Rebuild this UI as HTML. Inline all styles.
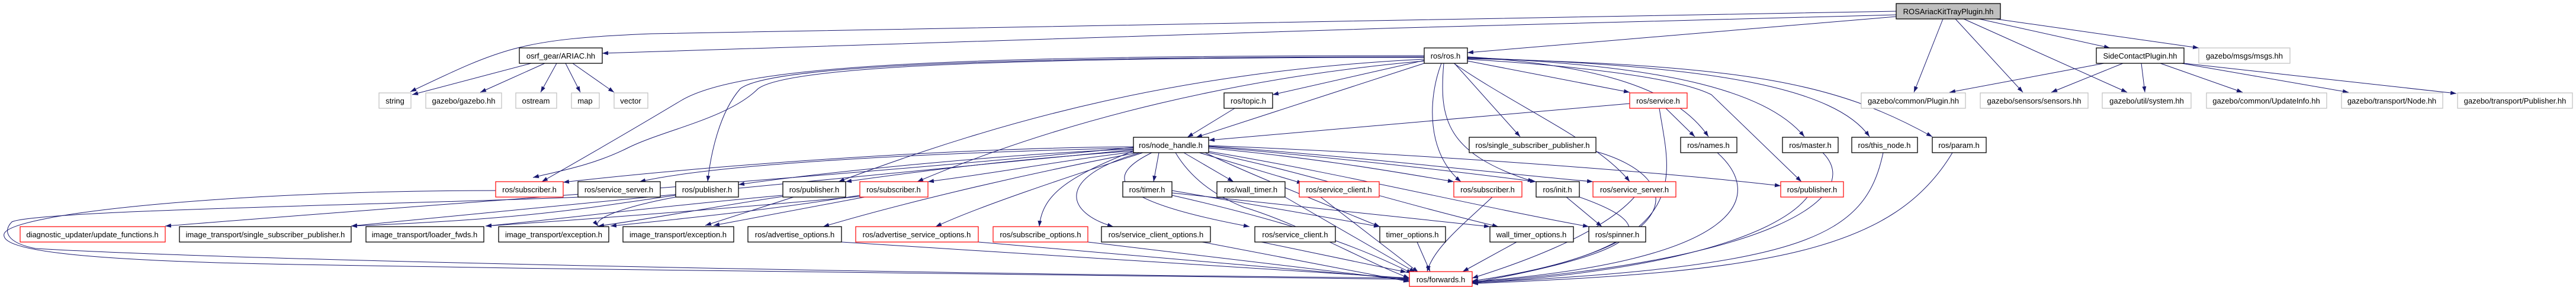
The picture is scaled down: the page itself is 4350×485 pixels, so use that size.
<!DOCTYPE html>
<html><head><meta charset="utf-8"><style>
html,body{margin:0;padding:0;background:#fff;}
svg{display:block;}
text{font-family:"Liberation Sans",sans-serif;font-size:13px;text-anchor:middle;fill:#000;}
.e{fill:none;stroke:#191970;stroke-width:1;marker-end:url(#a);}
.b{fill:#fff;stroke:#000;stroke-width:1.3;}
.r{fill:#fff;stroke:#f00;stroke-width:1.2;}
.g{fill:#fff;stroke:#bfbfbf;stroke-width:1.2;}
</style></head><body>
<svg width="4350" height="485" viewBox="0 0 4350 485" xmlns="http://www.w3.org/2000/svg">
<defs><marker id="a" markerUnits="userSpaceOnUse" markerWidth="11" markerHeight="8" refX="10" refY="3.5" orient="auto"><path d="M0,0 L10,3.5 L0,7 z" fill="#191970"/></marker></defs>
<g>
<path class="e" d="M3202,19 C2200,35 1300,50 1100,57 C880,66 850,80 693,155"/>
<path class="e" d="M3202,25 C2500,40 1500,75 1017,90"/>
<path class="e" d="M3202,28 L2478,89"/>
<path class="e" d="M3281,32 L3232,156"/>
<path class="e" d="M3302,32 L3416,156"/>
<path class="e" d="M3316,32 L3592,156"/>
<path class="e" d="M3342,32 L3563,81"/>
<path class="e" d="M3370,32 L3713,81"/>
<path class="e" d="M3553,107 L3292,156"/>
<path class="e" d="M3585,107 L3464,156"/>
<path class="e" d="M3616,107 L3622,156"/>
<path class="e" d="M3648,107 L3787,156"/>
<path class="e" d="M3684,107 L3966,156"/>
<path class="e" d="M3688,107 L4148,158"/>
<path class="e" d="M897,107 L696,160"/>
<path class="e" d="M920,107 L811,156"/>
<path class="e" d="M940,107 L913,156"/>
<path class="e" d="M955,107 L980,156"/>
<path class="e" d="M967,107 L1037,156"/>
<path class="e" d="M2405,94 C1600,94 1250,110 1150,170 C1050,230 980,270 915,307"/>
<path class="e" d="M2405,96 C1700,96 1300,110 1250,150 C1215,190 1200,260 1195,307"/>
<path class="e" d="M2405,97 C1700,97 1330,112 1280,150 C1230,200 1120,220 1060,250 C1000,280 940,290 900,300"/>
<path class="e" d="M2405,100 C2000,120 1700,200 1416,307"/>
<path class="e" d="M2405,103 C2100,130 1800,200 1549,307"/>
<path class="e" d="M2405,107 L2020,232"/>
<path class="e" d="M2405,102 L2149,160"/>
<path class="e" d="M2085,183 L2005,232"/>
<path class="e" d="M2752,175 L2041,237"/>
<path class="e" d="M2478,103 L2752,156"/>
<path class="e" d="M2456,107 L2567,231"/>
<path class="e" d="M2478,96 C2700,110 2830,150 2885,231"/>
<path class="e" d="M2478,97 C2800,110 2980,150 3047,231"/>
<path class="e" d="M2478,98 C2900,110 3100,150 3157,231"/>
<path class="e" d="M2478,99 C2950,110 3100,140 3263,231"/>
<path class="e" d="M2434,107 C2410,170 2410,260 2467,307"/>
<path class="e" d="M2438,107 C2430,200 2440,260 2590,307"/>
<path class="e" d="M2455,107 C2560,180 2700,240 2752,307"/>
<path class="e" d="M2478,100 C2800,120 2870,150 2890,160 L3042,307"/>
<path class="e" d="M1914,248 C1600,250 1200,280 951,308"/>
<path class="e" d="M1914,250 C1500,260 1200,280 1080,307"/>
<path class="e" d="M1914,252 C1700,260 1400,290 1247,312"/>
<path class="e" d="M1914,255 C1700,270 1550,290 1428,307"/>
<path class="e" d="M1914,257 C1800,270 1700,290 1567,307"/>
<path class="e" d="M1957,258 L1948,307"/>
<path class="e" d="M1999,258 L2083,307"/>
<path class="e" d="M2025,258 L2200,310"/>
<path class="e" d="M2041,250 C2250,270 2380,295 2455,307"/>
<path class="e" d="M2041,248 C2300,270 2500,295 2594,307"/>
<path class="e" d="M2041,247 C2300,265 2550,295 2690,307"/>
<path class="e" d="M2041,246 C2400,260 2800,290 3007,314"/>
<path class="e" d="M1920,258 C1700,300 1500,350 1390,383"/>
<path class="e" d="M1930,258 C1800,300 1650,350 1580,383"/>
<path class="e" d="M1914,255 C1800,300 1760,330 1755,383"/>
<path class="e" d="M1925,258 C1780,300 1800,360 1880,383"/>
<path class="e" d="M1945,258 C1860,300 1880,340 2110,383"/>
<path class="e" d="M2035,258 C2100,290 2250,350 2330,383"/>
<path class="e" d="M2041,258 C2200,290 2350,340 2530,383"/>
<path class="e" d="M2041,256 C2250,290 2500,350 2683,383"/>
<path class="e" d="M1985,258 C2010,300 2050,330 2100,350 C2200,380 2300,440 2380,470"/>
<path class="e" d="M1914,249 C1400,300 800,340 279,382"/>
<path class="e" d="M1914,253 C1400,300 900,350 593,382"/>
<path class="e" d="M1322,330 C1100,350 950,370 820,382"/>
<path class="e" d="M1141,330 C1000,350 900,370 593,382"/>
<path class="e" d="M1322,332 C1200,350 1100,370 1010,382"/>
<path class="e" d="M1452,330 C1300,355 1150,370 1031,382"/>
<path class="e" d="M1452,332 C1200,355 1000,370 820,382"/>
<path class="e" d="M1340,333 L1191,381"/>
<path class="e" d="M1460,333 L1205,381"/>
<path class="e" d="M1141,333 C1050,350 1000,370 1010,382"/>
<path class="e" d="M1979,322 L2330,383"/>
<path class="e" d="M1979,326 L2516,383"/>
<path class="e" d="M1979,330 C2200,380 2300,420 2385,462"/>
<path class="e" d="M2170,333 L2390,460"/>
<path class="e" d="M2230,333 L2395,460"/>
<path class="e" d="M2520,333 C2470,380 2420,420 2410,459"/>
<path class="e" d="M2645,333 L2705,383"/>
<path class="e" d="M2667,333 C2800,380 2800,420 2486,478"/>
<path class="e" d="M2760,333 C2700,400 2550,450 2486,470"/>
<path class="e" d="M3052,333 C3000,400 2800,460 2486,478"/>
<path class="e" d="M2695,256 C2850,300 2860,420 2486,475"/>
<path class="e" d="M2813,183 L2862,231"/>
<path class="e" d="M2802,183 C2820,300 2870,420 2486,475"/>
<path class="e" d="M2900,258 C2980,330 2950,440 2486,476"/>
<path class="e" d="M3078,258 C3150,330 3000,440 2486,477"/>
<path class="e" d="M3180,258 C3150,400 3050,450 2486,478"/>
<path class="e" d="M3297,258 C3200,420 3000,460 2486,479"/>
<path class="e" d="M1421,409 L2380,470"/>
<path class="e" d="M1652,409 L2380,472"/>
<path class="e" d="M1837,409 L2380,474"/>
<path class="e" d="M2030,409 L2380,476"/>
<path class="e" d="M2130,409 L2375,460"/>
<path class="e" d="M2393,409 L2415,459"/>
<path class="e" d="M2561,409 L2470,459"/>
<path class="e" d="M837,322 C400,322 20,360 7,395 C0,420 100,440 500,447 C1200,460 2000,465 2380,472"/>
<path class="e" d="M980,333 C700,345 60,355 20,375 C5,390 10,410 60,420 C400,440 1500,462 2380,470"/>
</g>
<g>
<rect x="3202" y="6" width="176" height="26" fill="#bfbfbf" stroke="#000" stroke-width="1.3"/><text x="3290" y="24">ROSAriacKitTrayPlugin.hh</text>
<rect class="b" x="877" y="81" width="140" height="26"/><text x="947" y="99">osrf_gear/ARIAC.hh</text>
<rect class="b" x="2405" y="81" width="73" height="26"/><text x="2441" y="99">ros/ros.h</text>
<rect class="b" x="3540" y="81" width="148" height="26"/><text x="3614" y="99">SideContactPlugin.hh</text>
<rect class="g" x="3713" y="81" width="154" height="26"/><text x="3790" y="99">gazebo/msgs/msgs.hh</text>
<rect class="g" x="640" y="157" width="54" height="26"/><text x="667" y="175">string</text>
<rect class="g" x="719" y="157" width="128" height="26"/><text x="783" y="175">gazebo/gazebo.hh</text>
<rect class="g" x="871" y="157" width="69" height="26"/><text x="905" y="175">ostream</text>
<rect class="g" x="965" y="157" width="47" height="26"/><text x="988" y="175">map</text>
<rect class="g" x="1037" y="157" width="57" height="26"/><text x="1065" y="175">vector</text>
<rect class="b" x="2067" y="157" width="82" height="26"/><text x="2108" y="175">ros/topic.h</text>
<rect class="r" x="2752" y="157" width="97" height="26"/><text x="2800" y="175">ros/service.h</text>
<rect class="g" x="3143" y="157" width="176" height="26"/><text x="3231" y="175">gazebo/common/Plugin.hh</text>
<rect class="g" x="3344" y="157" width="182" height="26"/><text x="3435" y="175">gazebo/sensors/sensors.hh</text>
<rect class="g" x="3550" y="157" width="150" height="26"/><text x="3625" y="175">gazebo/util/system.hh</text>
<rect class="g" x="3726" y="157" width="203" height="26"/><text x="3827" y="175">gazebo/common/UpdateInfo.hh</text>
<rect class="g" x="3954" y="157" width="171" height="26"/><text x="4039" y="175">gazebo/transport/Node.hh</text>
<rect class="g" x="4150" y="157" width="194" height="26"/><text x="4247" y="175">gazebo/transport/Publisher.hh</text>
<rect class="b" x="1914" y="232" width="127" height="26"/><text x="1977" y="250">ros/node_handle.h</text>
<rect class="b" x="2481" y="232" width="214" height="26"/><text x="2588" y="250">ros/single_subscriber_publisher.h</text>
<rect class="b" x="2838" y="232" width="95" height="26"/><text x="2885" y="250">ros/names.h</text>
<rect class="b" x="3010" y="232" width="94" height="26"/><text x="3057" y="250">ros/master.h</text>
<rect class="b" x="3127" y="232" width="111" height="26"/><text x="3182" y="250">ros/this_node.h</text>
<rect class="b" x="3263" y="232" width="91" height="26"/><text x="3308" y="250">ros/param.h</text>
<rect class="r" x="837" y="307" width="114" height="26"/><text x="894" y="325">ros/subscriber.h</text>
<rect class="b" x="976" y="307" width="139" height="26"/><text x="1045" y="325">ros/service_server.h</text>
<rect class="b" x="1141" y="307" width="106" height="26"/><text x="1194" y="325">ros/publisher.h</text>
<rect class="b" x="1322" y="307" width="106" height="26"/><text x="1375" y="325">ros/publisher.h</text>
<rect class="r" x="1452" y="307" width="115" height="26"/><text x="1509" y="325">ros/subscriber.h</text>
<rect class="b" x="1896" y="307" width="83" height="26"/><text x="1937" y="325">ros/timer.h</text>
<rect class="b" x="2055" y="307" width="115" height="26"/><text x="2112" y="325">ros/wall_timer.h</text>
<rect class="r" x="2194" y="307" width="135" height="26"/><text x="2261" y="325">ros/service_client.h</text>
<rect class="r" x="2455" y="307" width="115" height="26"/><text x="2512" y="325">ros/subscriber.h</text>
<rect class="b" x="2594" y="307" width="73" height="26"/><text x="2630" y="325">ros/init.h</text>
<rect class="r" x="2690" y="307" width="140" height="26"/><text x="2760" y="325">ros/service_server.h</text>
<rect class="r" x="3007" y="307" width="106" height="26"/><text x="3060" y="325">ros/publisher.h</text>
<rect class="r" x="34" y="383" width="245" height="26"/><text x="156" y="401">diagnostic_updater/update_functions.h</text>
<rect class="b" x="303" y="383" width="290" height="26"/><text x="448" y="401">image_transport/single_subscriber_publisher.h</text>
<rect class="b" x="618" y="383" width="199" height="26"/><text x="717" y="401">image_transport/loader_fwds.h</text>
<rect class="b" x="842" y="383" width="186" height="26"/><text x="935" y="401">image_transport/exception.h</text>
<rect class="b" x="1052" y="383" width="187" height="26"/><text x="1145" y="401">image_transport/exception.h</text>
<rect class="b" x="1263" y="383" width="158" height="26"/><text x="1342" y="401">ros/advertise_options.h</text>
<rect class="r" x="1445" y="383" width="207" height="26"/><text x="1548" y="401">ros/advertise_service_options.h</text>
<rect class="r" x="1677" y="383" width="160" height="26"/><text x="1757" y="401">ros/subscribe_options.h</text>
<rect class="b" x="1860" y="383" width="184" height="26"/><text x="1952" y="401">ros/service_client_options.h</text>
<rect class="b" x="2119" y="383" width="136" height="26"/><text x="2187" y="401">ros/service_client.h</text>
<rect class="b" x="2330" y="383" width="111" height="26"/><text x="2385" y="401">timer_options.h</text>
<rect class="b" x="2516" y="383" width="141" height="26"/><text x="2586" y="401">wall_timer_options.h</text>
<rect class="b" x="2683" y="383" width="96" height="26"/><text x="2731" y="401">ros/spinner.h</text>
<rect class="r" x="2380" y="459" width="106" height="25"/><text x="2433" y="477">ros/forwards.h</text>
</g>
</svg>
</body></html>
